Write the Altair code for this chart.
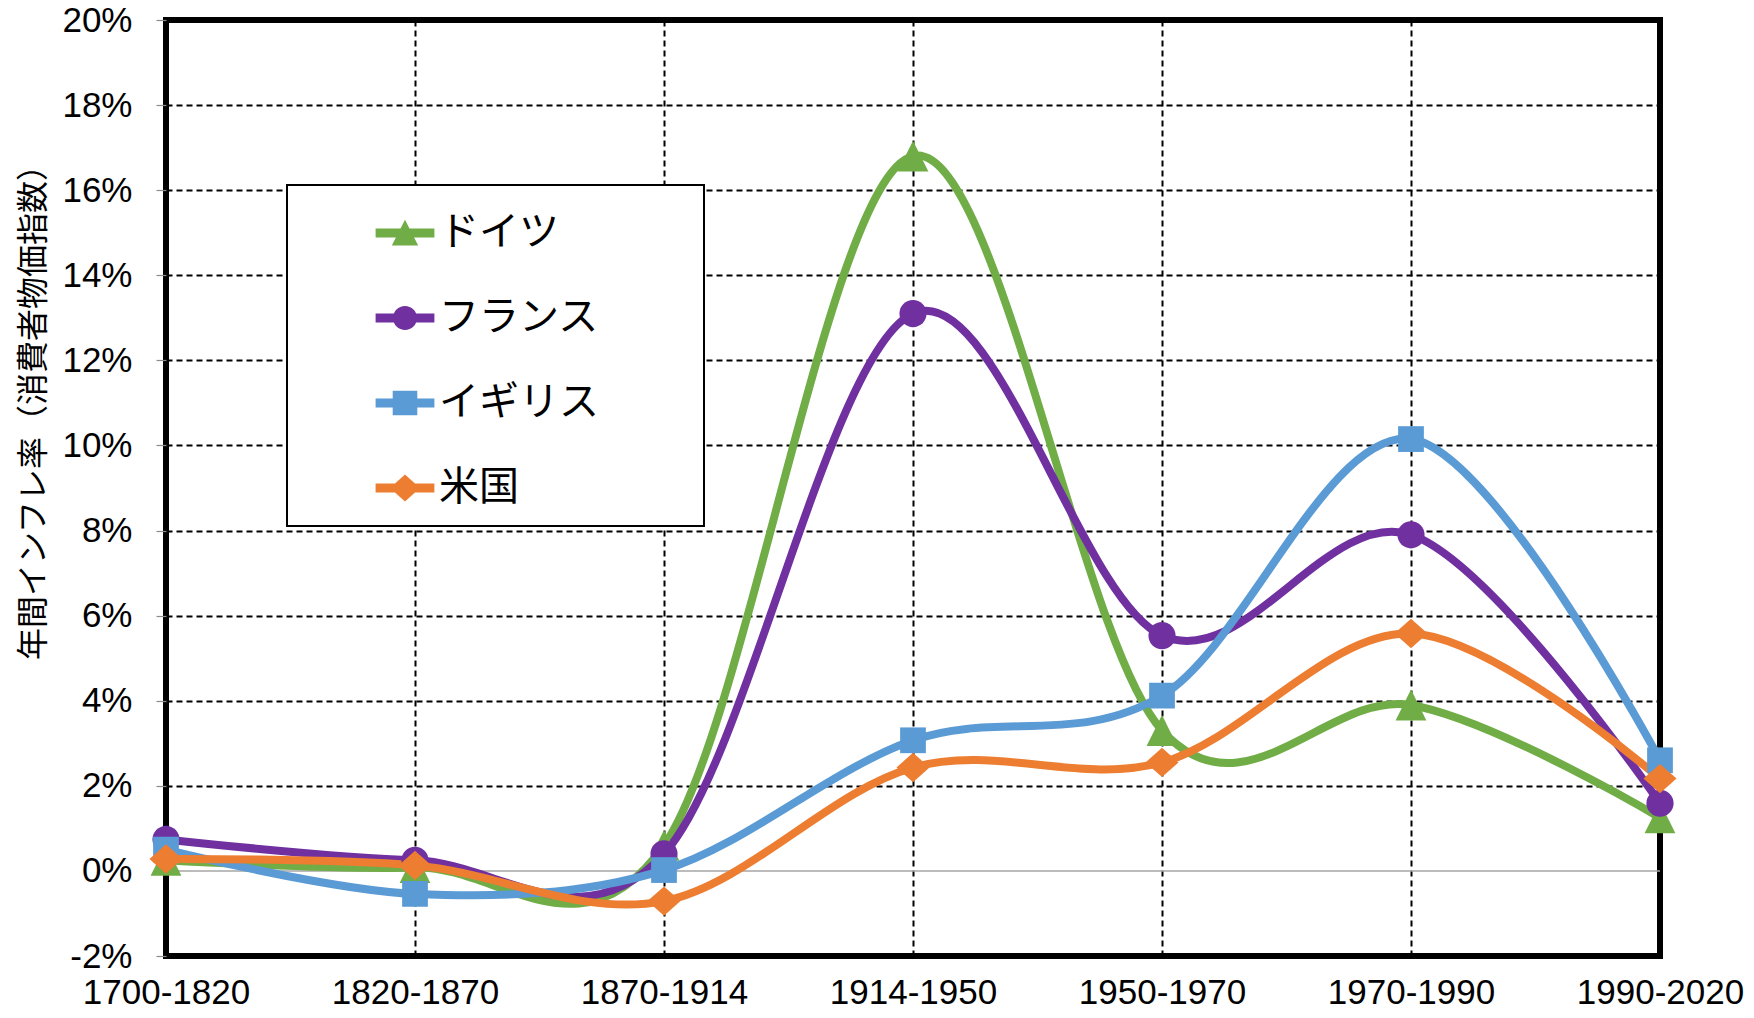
import math
import altair as alt
import pandas as pd

# ---------------- data ----------------
periods = ["1700-1820", "1820-1870", "1870-1914", "1914-1950",
           "1950-1970", "1970-1990", "1990-2020"]
countries = ["ドイツ", "フランス", "イギリス", "米国"]
germany = [0.25, 0.08, 0.6, 16.8, 3.3, 3.9, 1.25]
france = [0.74, 0.25, 0.4, 13.1, 5.53, 7.9, 1.59]
uk = [0.5, -0.54, 0.02, 3.07, 4.12, 10.15, 2.6]
us = [0.28, 0.13, -0.71, 2.43, 2.55, 5.58, 2.17]
colors = ["#70AD47", "#7030A0", "#5B9BD5", "#ED7D31"]
y_ticks = list(range(-2, 21, 2))
zero_line = [0]
y_title = "年間インフレ率（消費者物価指数）"

series = [germany, france, uk, us]
df = pd.DataFrame(
    [{"period": p, "country": c, "value": v}
     for c, vals in zip(countries, series) for p, v in zip(periods, vals)]
)
zero_df = pd.DataFrame({"value": zero_line})

# legend entries (padded with blank braille cells to widen the legend box)
legend_names = [c + "\u2800\u2800\u2800" for c in countries]


# ---------------- marker shapes ----------------
def poly_circle(r, n=32):
    pts = [f"{r * math.cos(2 * math.pi * i / n):.3f},{r * math.sin(2 * math.pi * i / n):.3f}"
           for i in range(n)]
    return "M" + " L".join(pts) + " Z"


def rect(x0, y0, x1, y1):
    return f"M{x0},{y0} L{x1},{y0} L{x1},{y1} L{x0},{y1} Z"


# chart markers (unit = 14 px, size 784)
mk_tri = "M0,-1.1 L1.1,1.1 L-1.1,1.1 Z"
mk_circ = poly_circle(0.97)
mk_sq = rect(-0.92, -0.92, 0.92, 0.92)
mk_dia = "M0,-1.05 L1.18,0 L0,1.05 L-1.18,0 Z"
marker_paths = [mk_tri, mk_circ, mk_sq, mk_dia]

# legend symbols: line + marker (unit = 30 px, size 3600)
bar = rect(-0.98, -0.15, 0.98, 0.15)
lg_tri = bar + " M0,-0.44 L0.44,0.42 L-0.44,0.42 Z"
lg_circ = bar + " " + poly_circle(0.4)
lg_sq = bar + " " + rect(-0.41, -0.41, 0.41, 0.41)
lg_dia = bar + " M0,-0.45 L0.5,0 L0,0.45 L-0.5,0 Z"
legend_paths = [lg_tri, lg_circ, lg_sq, lg_dia]

NUM_FONT = "Liberation Sans"
JP_FONT = "Noto Sans CJK JP"

# ---------------- encodings ----------------
x_enc = alt.X(
    "period:O", sort=periods,
    scale=alt.Scale(type="point", padding=0),
    axis=alt.Axis(
        title=None, labelFont=NUM_FONT, labelFontSize=35, labelColor="black",
        labelAngle=0, labelPadding=19, ticks=False, domain=False,
        labelOverlap=False, grid=True, gridColor="black", gridDash=[6, 4], gridWidth=2,
    ),
)
y_axis = alt.Axis(
    values=y_ticks, labelExpr="datum.value + '%'",
    labelFont=NUM_FONT, labelFontSize=35, labelColor="black", labelPadding=24,
    ticks=True, tickSize=10, tickColor="#8c8c8c", tickWidth=1.2, domain=False,
    grid=True,
    gridColor=alt.condition("datum.value === 0", alt.value("rgba(0,0,0,0)"), alt.value("black")),
    gridDash=[6, 4], gridWidth=2,
    title=y_title, titleFont=JP_FONT, titleFontSize=32, titleFontWeight="normal",
    titleColor="black", titleAngle=270, titleBaseline="middle", titleAlign="center",
    titleX=-133, titleY=384,
)
y_scale = alt.Scale(domain=[-2, 20], nice=False, zero=False)
y_enc = alt.Y("value:Q", scale=y_scale, axis=y_axis)

color_scale = alt.Scale(domain=countries, range=colors)

zero_rule = alt.Chart(zero_df).mark_rule(color="#A6A6A6", strokeWidth=1.5).encode(
    y=alt.Y("value:Q", scale=y_scale, axis=y_axis)
)

lines = alt.Chart(df).mark_line(
    interpolate="cardinal", strokeWidth=8, strokeCap="round", strokeJoin="round"
).encode(
    x=x_enc, y=y_enc,
    color=alt.Color("country:N", scale=color_scale, legend=None, sort=countries),
)

points = alt.Chart(df).mark_point(filled=True, size=784, opacity=1, strokeWidth=0).encode(
    x=alt.X("period:O", sort=periods),
    y=alt.Y("value:Q"),
    color=alt.Color("country:N", scale=color_scale, legend=None, sort=countries),
    shape=alt.Shape("country:N", scale=alt.Scale(domain=countries, range=marker_paths),
                    legend=None, sort=countries),
)

legend_def = alt.Legend(
    title=None, orient="none", legendX=121, legendY=165, direction="vertical",
    symbolSize=3600, symbolStrokeWidth=0, symbolOffset=70, symbolOpacity=1,
    labelOffset=4, labelFont=JP_FONT, labelFontSize=40, labelColor="black",
    labelLimit=600, rowPadding=35, padding=18, strokeColor="black", fillColor="white",
)

legend_layer = alt.Chart(df).transform_filter("false").mark_point(filled=True, opacity=1).encode(
    color=alt.Color("country:N", scale=alt.Scale(domain=legend_names, range=colors),
                    legend=legend_def, sort=legend_names),
    shape=alt.Shape("country:N", scale=alt.Scale(domain=legend_names, range=legend_paths),
                    legend=legend_def, sort=legend_names),
)

chart = (
    alt.layer(zero_rule, lines, points, legend_layer)
    .resolve_scale(color="independent", shape="independent")
    .properties(
        width=1494, height=936,
        autosize=alt.AutoSizeParams(type="none"),
        padding={"left": 158, "top": 12, "right": 86, "bottom": 54},
        background="white",
    )
    .configure_view(stroke="black", strokeWidth=6)
    .configure_legend(strokeWidth=2)
)

chart.save("out.html", embed_options={"renderer": "svg", "actions": False})
